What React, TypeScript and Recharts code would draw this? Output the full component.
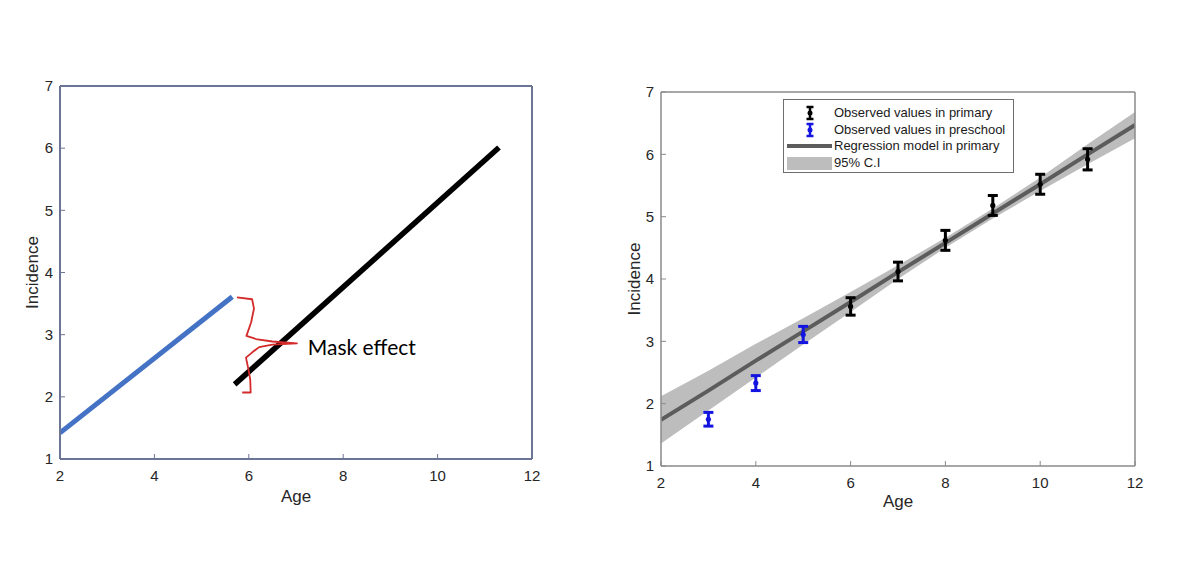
import React from 'react';
import {
  ComposedChart,
  Line,
  Area,
  Scatter,
  ErrorBar,
  XAxis,
  YAxis,
  Legend,
  ReferenceDot,
} from 'recharts';

const ageTicks = [2, 4, 6, 8, 10, 12];
const incidenceTicks = [1, 2, 3, 4, 5, 6, 7];

// left panel: schematic of the two trends and the gap between them
const preschoolTrend = [
  { age: 2.0, inc: 1.42 },
  { age: 5.65, inc: 3.61 },
];
const primaryTrend = [
  { age: 5.7, inc: 2.2 },
  { age: 11.3, inc: 6.01 },
];
const braceAges = [5.75, 6.07, 6.11, 6.05, 5.95, 6.15, 6.5, 7.02, 6.5, 6.22, 6.08, 5.94, 5.99, 6.03, 6.04, 5.86];
const braceInc = [3.6, 3.57, 3.42, 3.2, 2.98, 2.93, 2.89, 2.86, 2.84, 2.8, 2.72, 2.63, 2.45, 2.28, 2.07, 2.07];

// right panel: observations, fitted model and its confidence band
const modelAges = [2, 3, 4, 5, 6, 7, 8, 9, 10, 11, 12];
const modelFit = [1.74, 2.21, 2.69, 3.16, 3.63, 4.11, 4.58, 5.05, 5.52, 6.0, 6.47];
const ciLow = [1.36, 1.89, 2.42, 2.95, 3.47, 4.0, 4.5, 4.97, 5.41, 5.84, 6.26];
const ciHigh = [2.12, 2.53, 2.96, 3.37, 3.79, 4.22, 4.66, 5.13, 5.63, 6.16, 6.68];

const preschoolAges = [3, 4, 5];
const preschoolMean = [1.75, 2.33, 3.11];
const preschoolErr = [0.11, 0.12, 0.13];

const primaryAges = [6, 7, 8, 9, 10, 11];
const primaryMean = [3.56, 4.12, 4.62, 5.18, 5.52, 5.92];
const primaryErr = [0.14, 0.15, 0.16, 0.16, 0.16, 0.17];

const legendLabels = [
  'Observed values in primary',
  'Observed values in preschool',
  'Regression model in primary',
  '95% C.I',
];

const braceData = braceAges.map((a, i) => ({ age: a, inc: braceInc[i] }));
const modelData = modelAges.map((a, i) => ({ age: a, fit: modelFit[i], ci: [ciLow[i], ciHigh[i]] }));
const preschoolData = preschoolAges.map((a, i) => ({ age: a, inc: preschoolMean[i], err: preschoolErr[i] }));
const primaryData = primaryAges.map((a, i) => ({ age: a, inc: primaryMean[i], err: primaryErr[i] }));

const TEXT = '#262626';
const BLUE_PTS = '#1414e0';
const FIT = '#5c5c5c';
const BAND = '#bdbdbd';

// bottom/left axes with labels, plus top/right ones that only close the box (matlab style)
function axisSet(frame: string, frameWidth: number, titleOffsetX: number, titleOffsetY: number) {
  return [
    <XAxis
      key="xb"
      dataKey="age"
      type="number"
      domain={[2, 12]}
      ticks={ageTicks}
      allowDataOverflow
      height={40}
      tickSize={-5}
      tickMargin={16}
      axisLine={{ stroke: frame, strokeWidth: frameWidth }}
      tickLine={{ stroke: frame }}
      tick={{ fill: TEXT, fontSize: 15 }}
      label={{ value: 'Age', position: 'insideTop', offset: titleOffsetY, style: { fill: TEXT, fontSize: 17 } }}
    />,
    <XAxis
      key="xt"
      xAxisId="top"
      orientation="top"
      dataKey="age"
      type="number"
      domain={[2, 12]}
      ticks={ageTicks}
      allowDataOverflow
      height={1}
      tickSize={-5}
      tick={false}
      axisLine={{ stroke: frame, strokeWidth: frameWidth }}
      tickLine={{ stroke: frame }}
    />,
    <YAxis
      key="yl"
      type="number"
      domain={[1, 7]}
      ticks={incidenceTicks}
      allowDataOverflow
      width={40}
      tickSize={-5}
      tickMargin={12}
      axisLine={{ stroke: frame, strokeWidth: frameWidth }}
      tickLine={{ stroke: frame }}
      tick={{ fill: TEXT, fontSize: 15 }}
      label={{
        value: 'Incidence',
        angle: -90,
        position: 'insideLeft',
        offset: titleOffsetX,
        style: { textAnchor: 'middle', fill: TEXT, fontSize: 17 },
      }}
    />,
    <YAxis
      key="yr"
      yAxisId="right"
      orientation="right"
      type="number"
      domain={[1, 7]}
      ticks={incidenceTicks}
      allowDataOverflow
      width={1}
      tickSize={-5}
      tick={false}
      axisLine={{ stroke: frame, strokeWidth: frameWidth }}
      tickLine={{ stroke: frame }}
    />,
    <Line
      key="box"
      xAxisId="top"
      yAxisId="right"
      data={preschoolTrend}
      dataKey="inc"
      stroke="none"
      dot={false}
      activeDot={false}
      legendType="none"
      isAnimationActive={false}
    />,
  ];
}

function ErrIcon({ color }: { color: string }) {
  return (
    <svg width={50} height={16} style={{ display: 'block' }}>
      <line x1={26} x2={26} y1={2} y2={14} stroke={color} strokeWidth={2.5} />
      <line x1={22.5} x2={29.5} y1={2} y2={2} stroke={color} strokeWidth={2.5} />
      <line x1={22.5} x2={29.5} y1={14} y2={14} stroke={color} strokeWidth={2.5} />
      <circle cx={26} cy={8} r={2.5} fill={color} />
    </svg>
  );
}

function LegendBox() {
  const icons = [
    <ErrIcon color="#000" />,
    <ErrIcon color={BLUE_PTS} />,
    <svg width={50} height={16} style={{ display: 'block' }}>
      <line x1={3} x2={48} y1={8} y2={8} stroke={FIT} strokeWidth={4} />
    </svg>,
    <svg width={50} height={16} style={{ display: 'block' }}>
      <rect x={3} y={2} width={45} height={13} fill={BAND} />
    </svg>,
  ];
  return (
    <div
      style={{
        width: 231,
        height: 74,
        boxSizing: 'border-box',
        border: '1px solid #6e6e6e',
        background: '#fff',
        padding: '5px 0 0 0',
        fontFamily: '"Liberation Sans", Arial, sans-serif',
        fontSize: 13,
        color: '#1a1a1a',
      }}
    >
      {legendLabels.map((lab, i) => (
        <div key={lab} style={{ display: 'flex', alignItems: 'center', height: 16.5 }}>
          {icons[i]}
          <span style={{ whiteSpace: 'nowrap', lineHeight: '16px' }}>{lab}</span>
        </div>
      ))}
    </div>
  );
}

export default function App() {
  return (
    <div
      style={{
        position: 'fixed',
        left: 0,
        top: 0,
        width: 1200,
        height: 562,
        background: '#fff',
        fontFamily: '"Liberation Sans", Arial, sans-serif',
      }}
    >
      <div style={{ position: 'absolute', left: 0, top: 0 }}>
        <ComposedChart width={560} height={562} margin={{ top: 85, right: 27, bottom: 63, left: 20 }}>
          {axisSet('#6b7596', 2, 12, 31)}
          <Line
            data={preschoolTrend}
            dataKey="inc"
            type="linear"
            stroke="#4472c4"
            strokeWidth={5}
            dot={false}
            activeDot={false}
            isAnimationActive={false}
          />
          <Line
            data={primaryTrend}
            dataKey="inc"
            type="linear"
            stroke="#000"
            strokeWidth={5.5}
            dot={false}
            activeDot={false}
            isAnimationActive={false}
          />
          <Line
            data={braceData}
            dataKey="inc"
            type="linear"
            stroke="#d42a2a"
            strokeWidth={1.8}
            strokeLinejoin="round"
            dot={false}
            activeDot={false}
            isAnimationActive={false}
          />
          <ReferenceDot
            x={7.25}
            y={2.8}
            r={0}
            fill="none"
            stroke="none"
            label={{
              value: 'Mask effect',
              position: 'right',
              offset: 0,
              style: { fill: '#000', fontSize: 21, fontFamily: 'Lato, "Open Sans", sans-serif' },
            }}
          />
        </ComposedChart>
      </div>

      <div style={{ position: 'absolute', left: 600, top: 0 }}>
        <ComposedChart
          width={600}
          height={562}
          data={modelData}
          margin={{ top: 91, right: 64, bottom: 56, left: 21 }}
        >
          {axisSet('#8a8a8a', 1.5, 13, 29)}
          <Area
            dataKey="ci"
            type="linear"
            stroke="none"
            fill={BAND}
            fillOpacity={1}
            activeDot={false}
            isAnimationActive={false}
          />
          <Line
            dataKey="fit"
            type="linear"
            stroke={FIT}
            strokeWidth={4}
            dot={false}
            activeDot={false}
            isAnimationActive={false}
          />
          <Scatter
            data={preschoolData}
            dataKey="inc"
            fill={BLUE_PTS}
            isAnimationActive={false}
            shape={(p: any) => <circle cx={p.cx} cy={p.cy} r={2.6} fill={BLUE_PTS} />}
          >
            <ErrorBar dataKey="err" direction="y" width={5} stroke={BLUE_PTS} strokeWidth={3} isAnimationActive={false} />
          </Scatter>
          <Scatter
            data={primaryData}
            dataKey="inc"
            fill="#000"
            isAnimationActive={false}
            shape={(p: any) => <circle cx={p.cx} cy={p.cy} r={2.6} fill="#000" />}
          >
            <ErrorBar dataKey="err" direction="y" width={5} stroke="#000" strokeWidth={3} isAnimationActive={false} />
          </Scatter>
          <Legend
            verticalAlign="middle"
            align="center"
            content={() => <LegendBox />}
            wrapperStyle={{ left: 183, top: 99, width: 231, height: 74 }}
          />
        </ComposedChart>
      </div>
    </div>
  );
}
